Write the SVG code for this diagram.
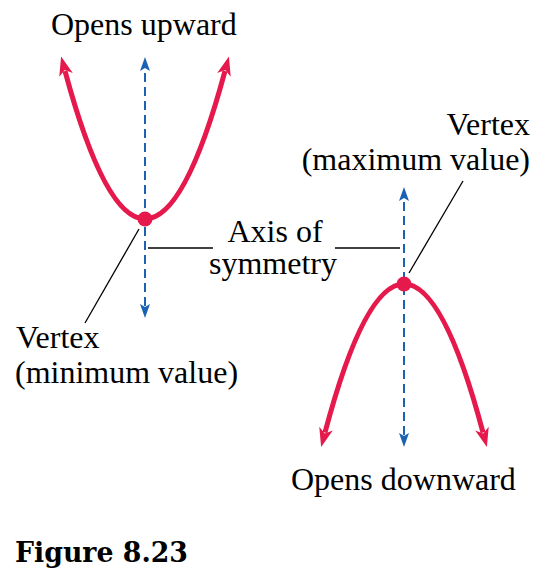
<svg xmlns="http://www.w3.org/2000/svg" width="543" height="586" viewBox="0 0 543 586">
<style>
.lbl{font-family:"Liberation Serif","Times New Roman",serif;font-size:32px;fill:#000}
.curve{fill:none;stroke:#E5194B;stroke-width:5}
.axis{fill:none;stroke:#1B63B2;stroke-width:2;stroke-dasharray:9 5}
.lead{fill:none;stroke:#000;stroke-width:1.3}
.dot{fill:#E5194B}
.fig{font-family:"DejaVu Serif",serif;font-weight:bold;font-size:28px;fill:#000}
</style>
<defs>
<marker id="ra" markerUnits="userSpaceOnUse" viewBox="-6 -9 24 18" refX="0" refY="0" markerWidth="24" markerHeight="18" orient="auto-start-reverse">
<path d="M15,0 L-4,-7 L1,0 L-4,7 Z" fill="#E5194B"/>
</marker>
<marker id="ba" markerUnits="userSpaceOnUse" viewBox="-4 -7 18 14" refX="0" refY="0" markerWidth="18" markerHeight="14" orient="auto-start-reverse">
<path d="M12,0 L-2,-5 L1,0 L-2,5 Z" fill="#1B63B2"/>
</marker>
</defs>
<rect width="543" height="586" fill="#fff"/>
<g id="connectors">
<path class="axis" d="M145,306 L145,69" marker-start="url(#ba)" marker-end="url(#ba)"/>
<path class="axis" d="M404,435 L404,199" marker-start="url(#ba)" marker-end="url(#ba)"/>
<path class="lead" d="M139,229 L85,323"/>
<path class="lead" d="M409,273 L463,181"/>
<path class="lead" d="M148,248 L213,248"/>
<path class="lead" d="M335,248 L400,248"/>
</g>
<g id="upward-parabola">
<path class="curve" d="M65,71 Q145,367 225,71" marker-start="url(#ra)" marker-end="url(#ra)"/>
<circle class="dot" cx="145" cy="219" r="7.5"/>
</g>
<g id="downward-parabola">
<path class="curve" d="M325,432.5 Q404,135.5 483,432.5" marker-start="url(#ra)" marker-end="url(#ra)"/>
<circle class="dot" cx="404" cy="284" r="7.5"/>
</g>
<g id="label-opens-upward"><text class="lbl" x="51" y="35">Opens upward</text></g>
<g id="label-opens-downward"><text class="lbl" x="291" y="490">Opens downward</text></g>
<g id="label-vertex-min">
<text class="lbl" x="16" y="348">Vertex<tspan x="15" y="383">(minimum value)</tspan></text>
</g>
<g id="label-vertex-max">
<text class="lbl" text-anchor="end" x="530" y="135">Vertex<tspan x="530" y="170">(maximum value)</tspan></text>
</g>
<g id="label-axis">
<text class="lbl" text-anchor="middle" x="275" y="241.5">Axis of<tspan x="273" y="273.5">symmetry</tspan></text>
</g>
<g id="caption"><text class="fig" x="15" y="562" textLength="173" lengthAdjust="spacingAndGlyphs">Figure 8.23</text></g>
</svg>
